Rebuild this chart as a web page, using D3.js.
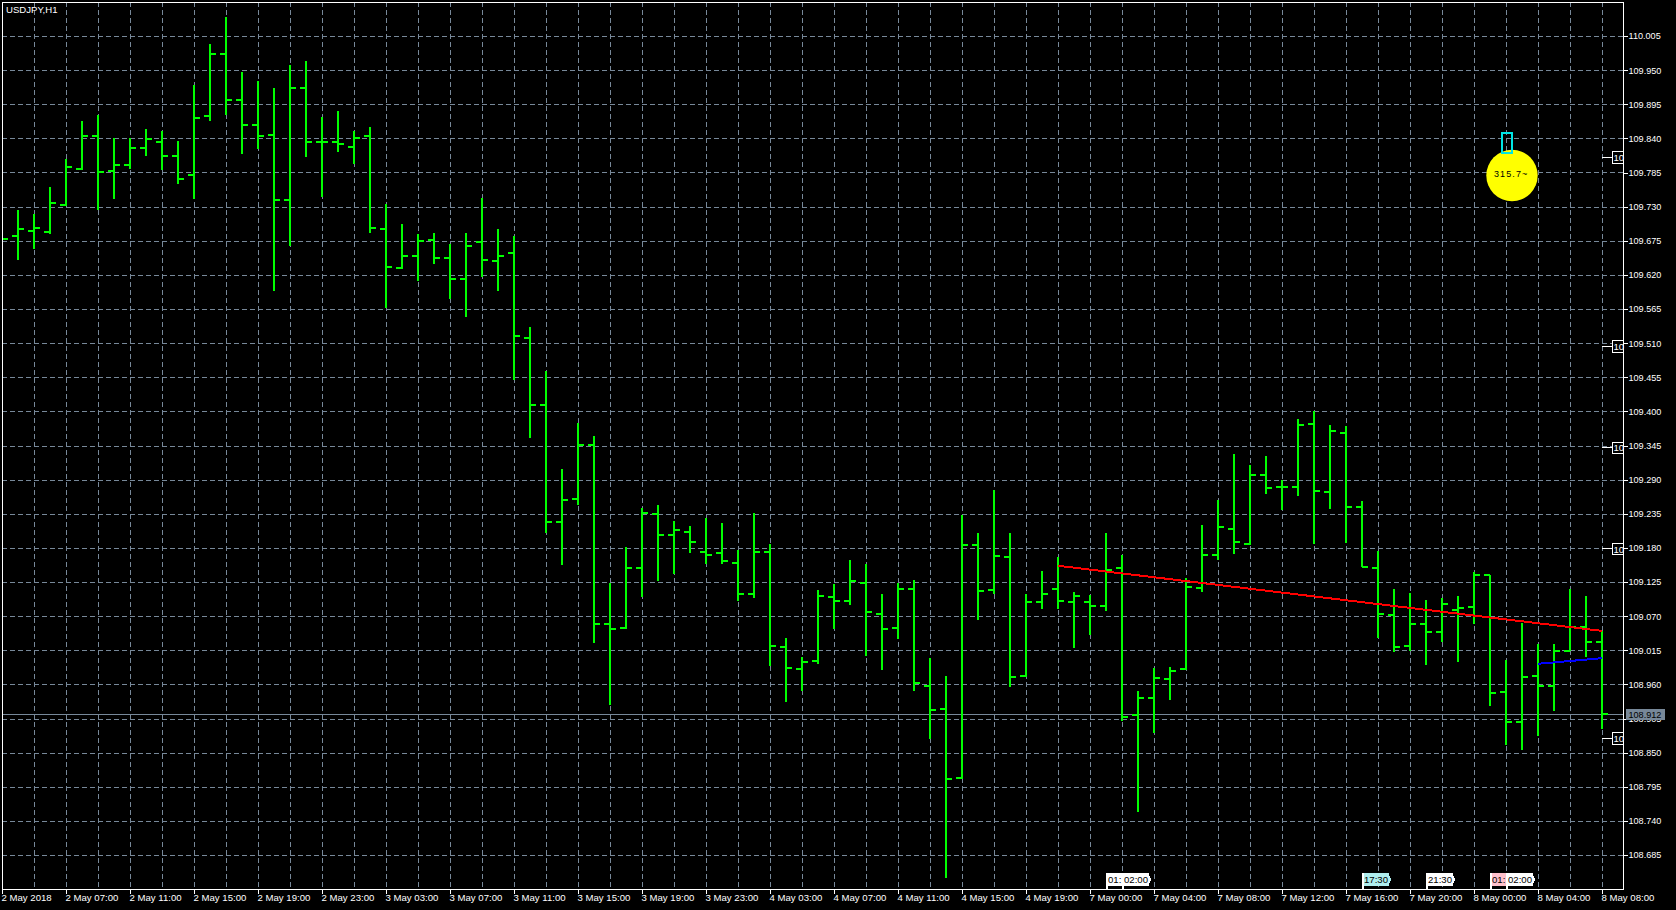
<!DOCTYPE html>
<html>
<head>
<meta charset="utf-8">
<title>USDJPY,H1</title>
<script src="https://cdn.jsdelivr.net/npm/d3@7/dist/d3.min.js"></script>
<style>
html,body{margin:0;padding:0;background:#000;overflow:hidden}
svg{display:block}
text{font-family:"Liberation Sans",Arial,sans-serif}
</style>
</head>
<body>
<svg id="chart" width="1676" height="910"></svg>
<script>
const chartTitle = "USDJPY,H1";
const opens = [109.677,109.683,109.692,109.690,109.734,109.792,109.845,109.789,109.798,109.826,109.835,109.813,109.781,109.877,109.977,109.902,109.863,109.847,109.742,109.922,109.835,109.835,109.827,109.844,109.695,109.632,109.651,109.677,109.648,109.614,109.673,109.643,109.656,109.519,109.411,109.223,109.259,109.347,109.058,109.052,109.148,109.235,109.202,109.206,109.174,109.173,109.156,109.106,109.174,109.021,108.986,108.998,109.102,109.095,109.124,109.074,109.052,109.115,108.958,108.921,108.810,109.185,109.113,109.166,108.974,109.094,109.115,109.094,109.094,109.087,109.148,108.911,108.939,108.969,108.986,109.116,109.169,109.211,109.187,109.298,109.279,109.279,109.380,109.271,109.366,109.247,109.148,109.073,109.023,109.058,109.045,109.081,109.086,109.137,108.949,108.900,108.974,108.958,109.015,109.053,109.029];
const highs = [109.693,109.725,109.719,109.762,109.808,109.869,109.878,109.841,109.841,109.856,109.853,109.837,109.927,109.993,110.036,109.948,109.933,109.922,109.959,109.966,109.875,109.885,109.853,109.859,109.735,109.703,109.687,109.688,109.671,109.688,109.745,109.695,109.683,109.537,109.466,109.308,109.382,109.361,109.124,109.182,109.245,109.250,109.224,109.216,109.229,109.221,109.177,109.237,109.187,109.036,109.005,109.113,109.123,109.161,109.155,109.106,109.124,109.129,109.003,108.974,109.234,109.205,109.274,109.205,109.106,109.144,109.166,109.110,109.105,109.205,109.169,108.950,108.987,108.989,109.132,109.218,109.258,109.332,109.314,109.329,109.290,109.389,109.401,109.379,109.377,109.256,109.176,109.115,109.108,109.097,109.100,109.103,109.142,109.137,109.000,109.060,109.026,109.026,109.115,109.103,109.047];
const lows = [109.669,109.645,109.662,109.687,109.732,109.790,109.725,109.743,109.791,109.812,109.790,109.767,109.743,109.869,109.878,109.816,109.824,109.595,109.667,109.811,109.746,109.819,109.800,109.688,109.567,109.630,109.611,109.638,109.582,109.553,109.617,109.595,109.451,109.358,109.205,109.153,109.250,109.028,108.928,109.050,109.102,109.127,109.139,109.173,109.155,109.155,109.095,109.100,108.990,108.932,108.950,108.994,109.050,109.089,109.007,108.984,109.034,108.950,108.873,108.649,108.809,109.065,109.106,108.957,108.973,109.082,109.082,109.019,109.040,109.079,108.902,108.755,108.882,108.936,108.984,109.110,109.161,109.171,109.185,109.268,109.242,109.264,109.187,109.243,109.189,109.150,109.036,109.013,109.015,108.992,109.029,108.997,109.058,108.926,108.863,108.855,108.878,108.918,109.015,109.005,108.889];
const closes = [109.679,109.694,109.696,109.736,109.794,109.844,109.787,109.798,109.826,109.839,109.813,109.776,109.873,109.976,109.903,109.863,109.845,109.742,109.922,109.835,109.835,109.831,109.842,109.697,109.634,109.651,109.676,109.648,109.614,109.667,109.645,109.651,109.522,109.411,109.223,109.258,109.347,109.058,109.050,109.148,109.237,109.202,109.210,109.190,109.169,109.160,109.106,109.174,109.023,108.987,108.997,109.103,109.095,109.127,109.077,109.050,109.115,108.963,108.920,108.808,109.185,109.111,109.168,108.973,109.094,109.106,109.095,109.103,109.087,109.145,108.908,108.939,108.971,108.982,109.118,109.169,109.214,109.190,109.298,109.277,109.279,109.379,109.272,109.369,109.247,109.150,109.074,109.021,109.058,109.045,109.090,109.084,109.137,108.947,108.900,108.973,108.958,109.015,109.053,109.029,108.913];

const priceTicks = [110.005,109.950,109.895,109.840,109.785,109.730,109.675,109.620,109.565,109.510,109.455,109.400,109.345,109.290,109.235,109.180,109.125,109.070,109.015,108.960,108.905,108.850,108.795,108.740,108.685];
const timeTickBars = [0,4,8,12,16,20,24,28,32,36,40,44,48,52,56,60,64,68,72,76,80,84,88,92,96,100];
const timeLabels = ["2 May 2018","2 May 07:00","2 May 11:00","2 May 15:00","2 May 19:00","2 May 23:00","3 May 03:00","3 May 07:00","3 May 11:00","3 May 15:00","3 May 19:00","3 May 23:00","4 May 03:00","4 May 07:00","4 May 11:00","4 May 15:00","4 May 19:00","7 May 00:00","7 May 04:00","7 May 08:00","7 May 12:00","7 May 16:00","7 May 20:00","8 May 00:00","8 May 04:00","8 May 08:00"];
const gridBars = d3.range(2,101,2);

const lastPrice = 108.912;
const redLineBars = [66,100];
const redLinePrices = [109.152,109.047];
const blueLineBars = [96,100];
const blueLinePrices = [108.994,109.003];
const levelTagPrices = [109.810,109.506,109.342,109.179,108.874];
const levelTagLabel = "10";
const flagBars = [69,70,85,89,93,94];
const flagLabels = ["01:","02:00","17:30","21:30","01:","02:00"];
const flagColors = ["#ffffff","#ffffff","#afeeee","#ffffff","#ffc0cb","#ffffff"];
const badgeBar = 94.375;
const badgePrice = 109.781;
const badgeLabel = "315.7~";
const markerTopPrice = 109.849;
const markerBottomPrice = 109.817;

const W = 1676, H = 910;
const frame = {left:2, top:2, right:1623, bottom:889};
const GRID = "#778899", GREEN = "#00ff00";

const x = d3.scaleLinear().domain([0,100]).range([2,1602]);
const y = d3.scaleLinear().domain([110.005,108.685]).range([36.5,855.5]);

const svg = d3.select("#chart");
svg.append("rect").attr("width",W).attr("height",H).attr("fill","#000");
svg.append("clipPath").attr("id","plot").append("rect")
  .attr("x",frame.left+1).attr("y",frame.top+1)
  .attr("width",frame.right-frame.left-1).attr("height",frame.bottom-frame.top-1);

const crisp = g => g.attr("shape-rendering","crispEdges");
const plot = svg.append("g").attr("clip-path","url(#plot)");

// grid
plot.append("g").call(crisp).selectAll("line.v").data(gridBars).join("line")
  .attr("class","v").attr("x1",d=>x(d)+.5).attr("x2",d=>x(d)+.5)
  .attr("y1",frame.top).attr("y2",frame.bottom)
  .attr("stroke",GRID).attr("stroke-dasharray","5 3");
plot.append("g").call(crisp).selectAll("line.h").data(priceTicks).join("line")
  .attr("class","h").attr("x1",frame.left).attr("x2",frame.right)
  .attr("y1",d=>Math.floor(y(d))+.5).attr("y2",d=>Math.floor(y(d))+.5)
  .attr("stroke",GRID).attr("stroke-dasharray","5 3");

// current price line
plot.append("line").call(crisp)
  .attr("x1",frame.left).attr("x2",frame.right)
  .attr("y1",Math.floor(y(lastPrice))+.5).attr("y2",Math.floor(y(lastPrice))+.5)
  .attr("stroke",GRID);

// OHLC bars
const bars = plot.append("g").call(crisp).attr("fill",GREEN);
const idx = d3.range(opens.length);
bars.selectAll("rect.hl").data(idx).join("rect").attr("class","hl")
  .attr("x",i=>x(i)-1).attr("width",2)
  .attr("y",i=>y(highs[i])).attr("height",i=>y(lows[i])-y(highs[i]));
bars.selectAll("rect.o").data(idx).join("rect").attr("class","o")
  .attr("x",i=>x(i)-6).attr("width",6).attr("y",i=>Math.round(y(opens[i]))-1).attr("height",2);
bars.selectAll("rect.c").data(idx).join("rect").attr("class","c")
  .attr("x",i=>x(i)).attr("width",6).attr("y",i=>Math.round(y(closes[i]))-1).attr("height",2);

// trend lines
const trend = d3.line().x(d=>x(d[0])).y(d=>y(d[1]));
plot.append("path").call(crisp).attr("fill","none").attr("stroke","#ff0000").attr("stroke-width",2)
  .attr("d",trend(d3.zip(redLineBars,redLinePrices)));
plot.append("path").call(crisp).attr("fill","none").attr("stroke","#0000ff").attr("stroke-width",2)
  .attr("d",trend(d3.zip(blueLineBars,blueLinePrices)));

// badge
const cx = x(badgeBar), cy = y(badgePrice);
svg.append("circle").attr("cx",cx).attr("cy",cy).attr("r",25.7).attr("fill","#ffff00");
svg.append("text").attr("x",cx-18).attr("y",cy+1.2).attr("fill","#000")
  .attr("font-size",9).attr("letter-spacing",1.1).text(badgeLabel);
svg.append("rect").call(crisp).attr("x",cx-10.5).attr("width",10)
  .attr("y",y(markerTopPrice)).attr("height",y(markerBottomPrice)-y(markerTopPrice))
  .attr("fill","none").attr("stroke","#00e5e5").attr("stroke-width",2);

// right axis
const yAxisG = svg.append("g").attr("transform",`translate(${frame.right},0)`)
  .call(d3.axisRight(y).tickValues(priceTicks).tickSize(5).tickPadding(0.5).offset(0).tickFormat(d3.format(".3f")));
yAxisG.select(".domain").remove();
yAxisG.selectAll("line").attr("stroke","#fff").attr("shape-rendering","crispEdges");
yAxisG.selectAll("text").attr("fill","#fff").attr("font-size",9.1)
  .attr("font-family",'"Liberation Sans",Arial,sans-serif');

// bottom axis
const xAxisG = svg.append("g").attr("transform",`translate(0,${frame.bottom})`)
  .call(d3.axisBottom(x).tickValues(timeTickBars).tickSize(5).tickPadding(0).offset(.5)
        .tickFormat((d,i)=>timeLabels[i]));
xAxisG.select(".domain").remove();
xAxisG.selectAll("line").attr("stroke","#fff").attr("shape-rendering","crispEdges");
xAxisG.selectAll("text").attr("fill","#fff").attr("font-size",9.6)
  .attr("text-anchor","start").attr("dx","-1").attr("dy","0.75em")
  .attr("font-family",'"Liberation Sans",Arial,sans-serif');

// bottom flags
const flagG = svg.append("g");
flagBars.forEach((b,i)=>{
  const fx = x(b), top = 873, bot = 886, short = flagLabels[i].length < 4;
  const w = short ? 16 : 26.5;
  const dd = short
    ? `M${fx},${top}H${fx+w}V${bot}H${fx}Z`
    : `M${fx},${top}H${fx+w}L${fx+w+2.5},${(top+bot)/2}L${fx+w},${bot}H${fx}Z`;
  flagG.append("path").attr("d",dd).attr("fill",flagColors[i]).attr("shape-rendering","crispEdges");
  flagG.append("rect").attr("x",fx).attr("y",top).attr("width",1.5).attr("height",frame.bottom-top)
    .attr("fill","#fff").attr("shape-rendering","crispEdges");
  flagG.append("text").attr("x",fx+2).attr("y",top+9.6).attr("fill","#000")
    .attr("font-size",9.6).text(flagLabels[i]);
});

// title
svg.append("text").attr("x",6).attr("y",12.5).attr("fill","#fff").attr("font-size",9.6).text(chartTitle);

// frame
svg.append("rect").call(crisp)
  .attr("x",frame.left+.5).attr("y",frame.top+.5)
  .attr("width",frame.right-frame.left).attr("height",frame.bottom-frame.top)
  .attr("fill","none").attr("stroke","#fff");

// level tags
const tags = svg.append("g");
levelTagPrices.forEach(p=>{
  const ty = y(p);
  tags.append("line").call(crisp).attr("x1",x(100)).attr("x2",1612).attr("y1",ty).attr("y2",ty).attr("stroke","#fff");
  tags.append("rect").call(crisp).attr("x",1612.5).attr("y",ty-5.5).attr("width",11).attr("height",11.5)
    .attr("fill","#000").attr("stroke","#fff");
  tags.append("text").attr("x",1613.5).attr("y",ty+3.6).attr("fill","#fff").attr("font-size",9.6).text(levelTagLabel);
});

// last price label
const ly = y(lastPrice);
svg.append("rect").call(crisp).attr("x",1626).attr("y",Math.floor(ly)-5).attr("width",39).attr("height",11).attr("fill",GRID);
svg.append("text").attr("x",1628.5).attr("y",Math.floor(ly)+3.5).attr("fill","#000").attr("font-size",9.1).text(lastPrice.toFixed(3));
</script>
</body>
</html>
